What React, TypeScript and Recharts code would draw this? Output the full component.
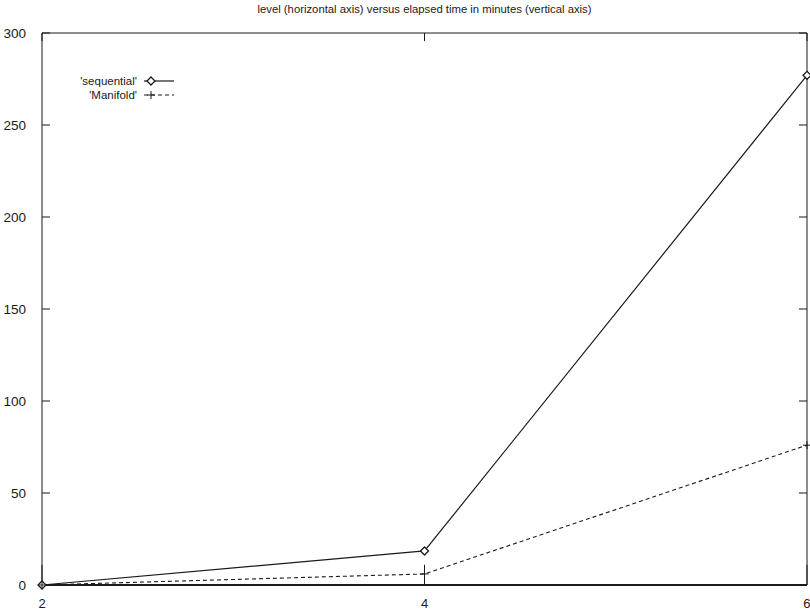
import React from "react";
import { LineChart, Line, XAxis, YAxis, ReferenceLine, ReferenceArea } from "recharts";

const levels = [2, 4, 6];
const sequential = [0, 18.5, 277];
const manifold = [0, 6, 76];
const xTicks = [2, 4, 6];
const yTicks = [0, 50, 100, 150, 200, 250, 300];

const data = levels.map((level, i) => ({
  level,
  sequential: sequential[i],
  manifold: manifold[i],
}));

const INK = "#1a1a1a";
const FONT = '"Liberation Sans", Arial, sans-serif';

// gnuplot style point markers
const Diamond = (props: any) => {
  const { cx, cy } = props;
  if (cx == null || cy == null) return null;
  const s = 4;
  return (
    <polygon
      points={`${cx},${cy - s} ${cx + s},${cy} ${cx},${cy + s} ${cx - s},${cy}`}
      fill="#fff"
      stroke={INK}
      strokeWidth={1.3}
    />
  );
};

const Plus = (props: any) => {
  const { cx, cy } = props;
  if (cx == null || cy == null) return null;
  const s = 4;
  return (
    <g stroke={INK} strokeWidth={1}>
      <line x1={cx - s} y1={cy} x2={cx + s} y2={cy} />
      <line x1={cx} y1={cy - s} x2={cx} y2={cy + s} />
    </g>
  );
};

const LegendBox = () => (
  <div
    style={{
      position: "absolute",
      left: 0,
      top: 74,
      width: 176,
      fontFamily: FONT,
      fontSize: 11.5,
      color: INK,
      lineHeight: "14px",
    }}
  >
    <div style={{ display: "flex", alignItems: "center", justifyContent: "flex-end" }}>
      <span>'sequential'</span>
      <svg width={34} height={12} style={{ marginLeft: 5 }}>
        <line x1={2} y1={6} x2={32} y2={6} stroke={INK} strokeWidth={1.2} />
        <Diamond cx={9} cy={6} />
      </svg>
    </div>
    <div style={{ display: "flex", alignItems: "center", justifyContent: "flex-end" }}>
      <span>'Manifold'</span>
      <svg width={34} height={12} style={{ marginLeft: 5 }}>
        <line x1={2} y1={6} x2={32} y2={6} stroke={INK} strokeWidth={1} strokeDasharray="4 3" />
        <Plus cx={9} cy={6} />
      </svg>
    </div>
  </div>
);

export default function App() {
  const xTick = 0.042; // inward tick length in level units
  const yTick = 4.4; // inward tick length in minutes
  return (
    <div style={{ position: "absolute", left: 0, top: 0, width: 810, height: 613, background: "#fff" }}>
      <div
        style={{
          position: "absolute",
          top: 3,
          left: 42,
          width: 765,
          textAlign: "center",
          fontFamily: FONT,
          fontSize: 11.3,
          color: INK,
        }}
      >
        level (horizontal axis) versus elapsed time in minutes (vertical axis)
      </div>
      <LineChart
        width={810}
        height={613}
        data={data}
        margin={{ top: 33, right: 3, left: 0, bottom: 0 }}
      >
        <XAxis
          dataKey="level"
          type="number"
          domain={[2, 6]}
          ticks={xTicks}
          axisLine={false}
          tickLine={false}
          tickMargin={8}
          height={28}
          tick={{ fill: INK, fontSize: 13, fontFamily: FONT }}
        />
        <YAxis
          type="number"
          domain={[0, 300]}
          ticks={yTicks}
          axisLine={false}
          tickLine={false}
          width={42}
          tickMargin={10}
          tick={{ fill: INK, fontSize: 13.5, fontFamily: FONT }}
        />
        <ReferenceArea x1={2} x2={6} y1={0} y2={300} fill="none" stroke={INK} strokeWidth={1} ifOverflow="visible" />
        <ReferenceLine y={0} stroke={INK} strokeWidth={2.2} />
        {yTicks.map((t) => (
          <ReferenceLine
            key={"l" + t}
            segment={[{ x: 2, y: t }, { x: 2 + xTick, y: t }]}
            stroke={INK}
          />
        ))}
        {yTicks.map((t) => (
          <ReferenceLine
            key={"r" + t}
            segment={[{ x: 6 - xTick, y: t }, { x: 6, y: t }]}
            stroke={INK}
          />
        ))}
        {xTicks.map((t) => (
          <ReferenceLine
            key={"b" + t}
            segment={[{ x: t, y: 0 }, { x: t, y: yTick * 2.5 }]}
            stroke={INK}
          />
        ))}
        {xTicks.map((t) => (
          <ReferenceLine
            key={"t" + t}
            segment={[{ x: t, y: 300 - yTick }, { x: t, y: 300 }]}
            stroke={INK}
          />
        ))}
        <Line
          dataKey="sequential"
          stroke={INK}
          strokeWidth={1.2}
          dot={<Diamond />}
          activeDot={false}
          isAnimationActive={false}
        />
        <Line
          dataKey="manifold"
          stroke={INK}
          strokeWidth={1.1}
          strokeDasharray="4 3"
          dot={<Plus />}
          activeDot={false}
          isAnimationActive={false}
        />
      </LineChart>
      <LegendBox />
    </div>
  );
}
